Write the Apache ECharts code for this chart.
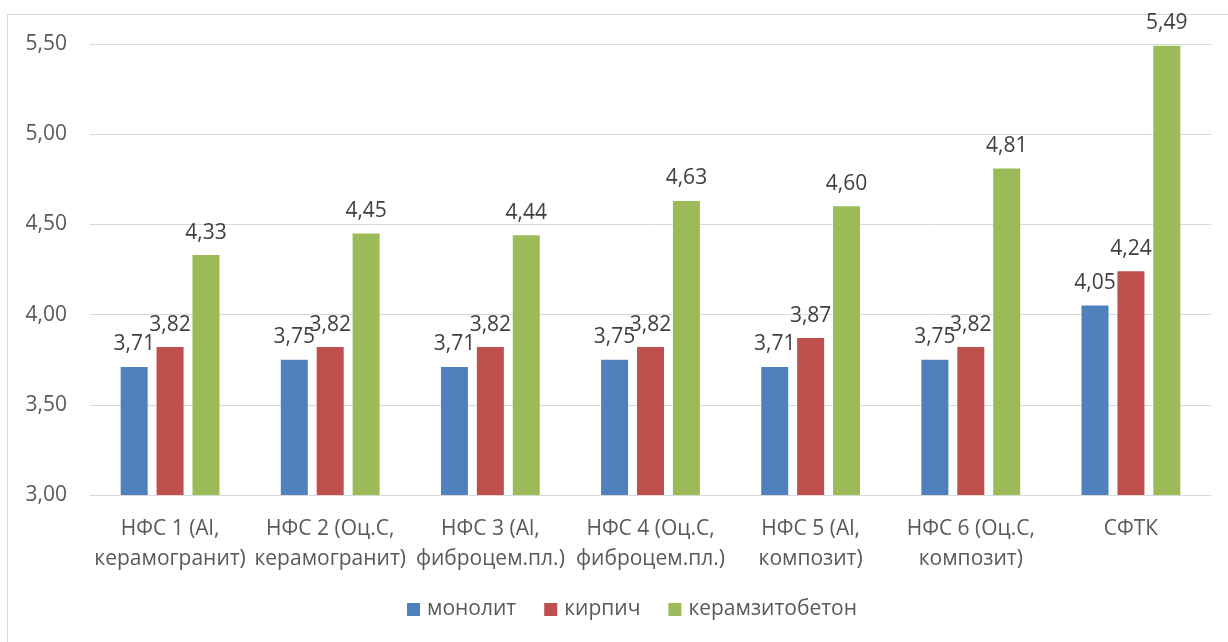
<!DOCTYPE html>
<html><head><meta charset="utf-8">
<script src="https://cdn.jsdelivr.net/npm/echarts@6/dist/echarts.min.js"></script>
<style>html,body{margin:0;padding:0;background:#fff}#c{width:1228px;height:642px}</style>
</head><body><div id="c"></div>
<script>
const categories = ['НФС 1 (Al,\nкерамогранит)','НФС 2 (Оц.С,\nкерамогранит)','НФС 3 (Al,\nфиброцем.пл.)','НФС 4 (Оц.С,\nфиброцем.пл.)','НФС 5 (Al,\nкомпозит)','НФС 6 (Оц.С,\nкомпозит)','СФТК'];
const monolit = [3.71,3.75,3.71,3.75,3.71,3.75,4.05];
const kirpich = [3.82,3.82,3.82,3.82,3.87,3.82,4.24];
const keramzit = [4.33,4.45,4.44,4.63,4.60,4.81,5.49];
const seriesNames = ['монолит','кирпич','керамзитобетон'];
const colors = ['#4F81BD','#C0504D','#9BBB59'];
const yMin = 3.0, yMax = 5.5, yStep = 0.5;

const fmt = v => Number(v).toFixed(2).replace('.', ',');
const FONT = '"Open Sans", sans-serif';
const FS = 21;
const chart = echarts.init(document.getElementById('c'), null, {renderer:'canvas'});
const mk = (name, data, color) => ({
  name, type:'bar', data, barWidth:27, barGap:'33%',
  itemStyle:{color},
  label:{show:true, position:'top', distance:12, formatter:p=>fmt(p.value),
         color:'#404040', fontSize:FS, fontFamily:FONT}
});
chart.setOption({
  animation:false,
  textStyle:{fontFamily:FONT},
  graphic:[{type:'rect', shape:{x:7.5,y:14.5,width:1400,height:800}, style:{fill:'none', stroke:'#d9d9d9', lineWidth:1}, silent:true}],
  grid:{left:90, right:17, top:44, bottom:147},
  legend:{left:407, top:599, padding:0, itemWidth:13, itemHeight:13, itemGap:28, icon:'rect',
          textStyle:{color:'#595959', fontSize:FS, fontFamily:FONT, padding:[0,0,0,2]}, data:seriesNames},
  xAxis:{type:'category', data:categories,
         axisLine:{lineStyle:{color:'#d9d9d9', width:1}}, axisTick:{show:false},
         axisLabel:{color:'#595959', fontSize:FS, lineHeight:30, margin:19, interval:0, fontFamily:FONT}},
  yAxis:{type:'value', min:yMin, max:yMax, interval:yStep,
         axisLine:{show:false}, axisTick:{show:false},
         splitLine:{lineStyle:{color:'#d9d9d9', width:1}},
         axisLabel:{color:'#595959', fontSize:FS, margin:23, formatter:v=>fmt(v), fontFamily:FONT}},
  series:[mk(seriesNames[0], monolit, colors[0]), mk(seriesNames[1], kirpich, colors[1]), mk(seriesNames[2], keramzit, colors[2])]
});
</script></body></html>
